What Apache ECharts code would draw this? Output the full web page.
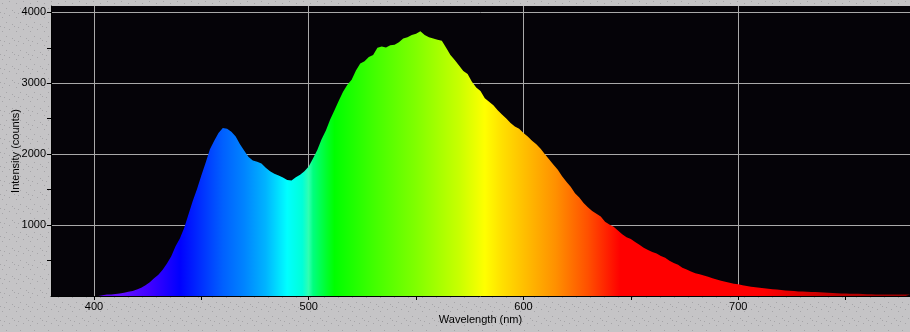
<!DOCTYPE html>
<html>
<head>
<meta charset="utf-8">
<script src="https://cdn.jsdelivr.net/npm/echarts@6/dist/echarts.min.js"></script>
<style>
  html, body { margin: 0; padding: 0; }
  #chart { width: 910px; height: 332px; background-color: #c5c4c6; }
</style>
</head>
<body>
<div id="chart"></div>
<script>
// wavelength grid (nm), 2 nm steps
const wavelengths = [];
for (let w = 380; w <= 780; w += 2) wavelengths.push(w);

// intensity (counts), one per wavelength above
const counts = [
  0, 0, 0, 0, 0, 0, 0, 0, 0, 0, 0, 0, // 380-402
  10, 20, 22, 28, 35, 45, 60, 70, 90, 115, // 404-422
  150, 195, 250, 300, 370, 460, 560, 700, 810, 960, // 424-442
  1150, 1340, 1510, 1700, 1880, 2070, 2190, 2300, 2370, 2360, // 444-462
  2315, 2250, 2140, 2050, 1960, 1910, 1895, 1870, 1810, 1760, // 464-482
  1725, 1700, 1670, 1635, 1630, 1675, 1710, 1760, 1826, 1940, // 484-502
  2060, 2210, 2335, 2490, 2620, 2755, 2880, 2980, 3050, 3180, // 504-522
  3280, 3310, 3370, 3400, 3500, 3520, 3505, 3535, 3545, 3580, // 524-542
  3630, 3650, 3680, 3700, 3735, 3680, 3650, 3630, 3615, 3600, // 544-562
  3500, 3400, 3330, 3250, 3175, 3130, 3020, 2940, 2890, 2790, // 564-582
  2740, 2690, 2620, 2560, 2505, 2440, 2390, 2360, 2300, 2250, // 584-602
  2190, 2140, 2075, 2000, 1925, 1850, 1780, 1690, 1610, 1540, // 604-622
  1450, 1390, 1310, 1250, 1200, 1160, 1120, 1046, 1010, 975, // 624-642
  925, 870, 830, 805, 763, 722, 680, 648, 622, 600, // 644-662
  565, 540, 497, 465, 440, 400, 375, 345, 320, 307, // 664-682
  288, 272, 250, 232, 215, 200, 188, 172, 164, 150, // 684-702
  140, 130, 122, 116, 110, 104, 96, 92, 84, 78, // 704-722
  74, 70, 65, 62, 60, 58, 55, 52, 50, 46, // 724-742
  42, 40, 37, 35, 33, 33, 32, 28, 25, 24, // 744-762
  22, 20, 20, 20, 20, 20, 20, 20, 20 // 764-780
];

const xTicks = [400, 450, 500, 550, 600, 650, 700, 750];
const xLabels = [400, 500, 600, 700];
const yTicks = [500, 1000, 1500, 2000, 2500, 3000, 3500, 4000];
const yLabels = [1000, 2000, 3000, 4000];

// spectrum colours by wavelength
const specStops = [
  [380, "#3a0080"], [400, "#5a00e0"], [412, "#6410ff"], [426, "#4000ff"],
  [440, "#0000ff"], [450, "#0030ff"], [460, "#0060ff"], [470, "#0084ff"],
  [480, "#00b4ff"], [490, "#00ffff"], [497, "#00ffd8"], [500, "#30ffb0"],
  [502, "#00ff80"], [508, "#00ff30"], [512, "#00ff00"], [530, "#40ff00"],
  [550, "#80ff00"], [570, "#c8ff00"], [582, "#ffff00"], [590, "#ffe000"],
  [600, "#ffc000"], [615, "#ff9000"], [630, "#ff5000"], [645, "#ff0000"],
  [712, "#ff0000"], [735, "#d00000"], [760, "#a80000"], [780, "#980000"]
];

// dotted grey background
const pat = document.createElement("canvas");
pat.width = 14; pat.height = 14;
const pctx = pat.getContext("2d");
pctx.fillStyle = "#c5c4c6";
pctx.fillRect(0, 0, 14, 14);
pctx.fillStyle = "#a6a5a8";
[[2, 3], [9, 1], [6, 8], [12, 10], [0, 12], [4, 13]].forEach(([x, y]) => pctx.fillRect(x, y, 1, 1));
document.getElementById("chart").style.backgroundImage = "url(" + pat.toDataURL() + ")";

const chart = echarts.init(document.getElementById("chart"), null, { renderer: "canvas" });
const font = "Liberation Sans";
const xMin = wavelengths[0], xMax = wavelengths[wavelengths.length - 1];

chart.setOption({
  animation: false,
  backgroundColor: "transparent",
  grid: {
    left: 51, right: 0, top: 6, bottom: 36,
    show: true, backgroundColor: "#050308", borderWidth: 0,
    outerBoundsMode: "none"
  },
  xAxis: [
    {
      type: "value", min: xMin, max: xMax, position: "bottom",
      name: "Wavelength (nm)", nameLocation: "middle", nameGap: 18,
      nameMoveOverlap: false,
      nameTextStyle: { color: "#000", fontFamily: font, fontSize: 11 },
      axisLine: { show: true, lineStyle: { color: "#000", width: 1 } },
      axisTick: { show: true, length: 4, customValues: xTicks, lineStyle: { color: "#000" } },
      axisLabel: { customValues: xLabels, color: "#000", fontFamily: font, fontSize: 11, margin: 5,
        formatter: (v) => String(v) },
      splitLine: { show: false }
    },
    {
      type: "value", min: xMin, max: xMax, position: "bottom",
      axisLine: { show: false },
      axisTick: { show: false, customValues: xLabels },
      axisLabel: { show: false },
      splitLine: { show: true, lineStyle: { color: "#a9a9a9", width: 1 } }
    }
  ],
  yAxis: [
    {
      type: "value", min: 0, max: 4090, position: "left",
      name: "Intensity (counts)", nameLocation: "middle", nameGap: 30,
      nameMoveOverlap: false,
      nameTextStyle: { color: "#000", fontFamily: font, fontSize: 11 },
      axisLine: { show: true, lineStyle: { color: "#000", width: 1 } },
      axisTick: { show: true, length: 4, customValues: yTicks, lineStyle: { color: "#000" } },
      axisLabel: { customValues: yLabels, color: "#000", fontFamily: font, fontSize: 11, margin: 5,
        formatter: (v) => String(v) },
      splitLine: { show: false }
    },
    {
      type: "value", min: 0, max: 4090, position: "left",
      axisLine: { show: false },
      axisTick: { show: false, customValues: yLabels },
      axisLabel: { show: false },
      splitLine: { show: true, lineStyle: { color: "#a9a9a9", width: 1 } }
    }
  ],
  series: [
    {
      type: "line",
      xAxisIndex: 0,
      yAxisIndex: 0,
      data: wavelengths.map((w, i) => [w, counts[i]]),
      showSymbol: false,
      lineStyle: { width: 0 },
      areaStyle: {
        opacity: 1,
        color: new echarts.graphic.LinearGradient(0, 0, 1, 0,
          specStops.map(([w, c]) => ({ offset: (w - xMin) / (xMax - xMin), color: c })))
      },
      z: 3
    }
  ]
});

window.addEventListener("resize", () => chart.resize());
</script>
</body>
</html>
